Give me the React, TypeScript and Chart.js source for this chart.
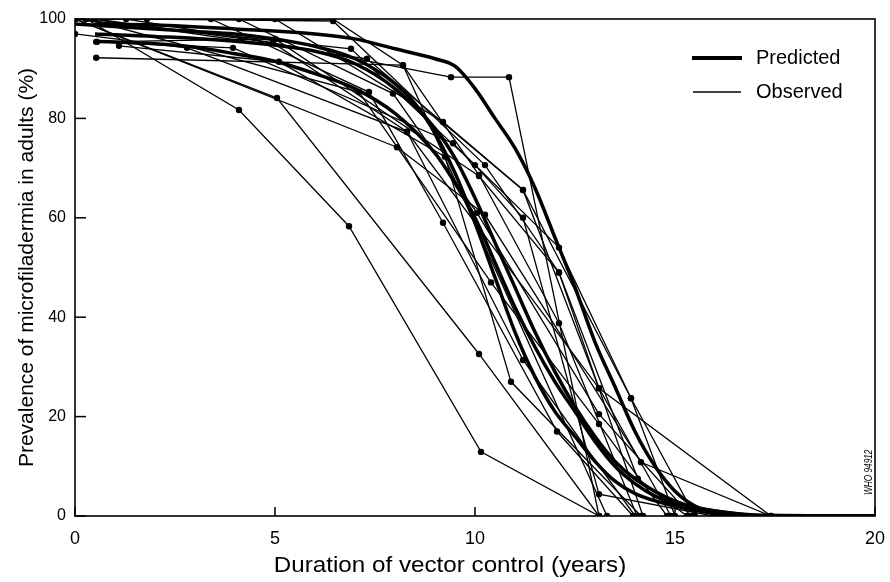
import React, { useEffect, useRef } from "react";
import { Chart, registerables } from "chart.js";
Chart.register(...registerables);

const xTicks = [0, 5, 10, 15, 20];
const yTicks = [0, 20, 40, 60, 80, 100];
const xTitle = "Duration of vector control (years)";
const yTitle = "Prevalence of microfiladermia in adults (%)";
const legendLabels = ["Predicted", "Observed"];
const codeLabel = "WHO 94912";

// Observed series: [years, prevalence %]
const obsA = [[0, 100], [1.28, 100], [4.95, 95.2], [9.4, 88.3], [10.85, 88.3], [13.1, 0]];
const obsB = [[0.53, 92.2], [8.2, 90.7], [10.1, 68.6], [12.1, 38.8], [14.05, 0]];
const obsC = [[0.28, 100], [4.1, 81.7], [6.85, 58.3], [10.15, 12.9], [13.1, 0]];
const obsD = [[0, 100], [5.05, 84.1], [10.1, 32.6], [13.1, 0]];
const obsE = [[0, 97], [2.8, 94.2], [8.3, 77.3], [11.2, 31.4], [14.0, 0]];
const obsF = [[0.45, 100], [3.4, 100], [7.35, 85.3], [9.2, 59], [12.05, 17], [13.95, 0]];
const obsG = [[0.5, 100], [4.1, 100], [7.95, 85], [10.05, 61], [13.1, 20.5], [15.4, 0]];
const obsH = [[0, 100], [5, 100], [9.2, 79.3], [11.2, 65.6], [13.1, 25.7], [14.9, 0]];
const obsI = [[0.55, 95.4], [3.95, 94.2], [9.45, 75], [12.1, 54], [13.9, 23.7], [15.5, 0]];
const obsJ = [[1.1, 94.6], [5.1, 91.4], [9.25, 72.3], [10.9, 27], [14.15, 0]];
const obsK = [[1.8, 100], [6.45, 99.6], [10.25, 70.6], [12.1, 49], [14.07, 7.5], [15.3, 0]];
const obsL = [[0, 100], [6.9, 94], [10, 70.6], [11.2, 60], [13.1, 4.4], [15.95, 0]];
const obsM = [[0.28, 100], [7.1, 85.3], [10.4, 47], [13.1, 18.5], [14.8, 0]];
const obsN = [[0, 100], [8.05, 74.2], [10.25, 60.6], [14.15, 10.8], [17.4, 0]];
const obsO = [[0.5, 100], [4.95, 95.2], [8.3, 77.3], [13.1, 25.7], [17.4, 0]];
const obsP = [[0.45, 100], [7.3, 92], [11.2, 65.6], [13.9, 23.7], [15, 0]];
const obsQ = [[0, 100], [6.45, 100], [8.2, 90.7], [13.3, 0]];
const obsR = [[0.53, 95.4], [5, 96], [10.1, 68.4], [12.1, 49], [14.2, 0]];
const observedSeries = [obsA, obsB, obsC, obsD, obsE, obsF, obsG, obsH, obsI, obsJ, obsK, obsL, obsM, obsN, obsO, obsP, obsQ, obsR];

// Predicted curves
const predA = [[0.5, 99], [2, 98.8], [4, 98], [6, 97], [7, 96], [8, 94], [9, 92], [9.5, 90.5], [10, 86], [10.5, 80], [11, 74], [11.5, 66], [12, 56], [12.5, 46], [13, 35], [13.5, 26], [14, 17], [14.5, 10], [15, 5], [15.5, 2], [16, 0.5], [17, 0], [20, 0]];
const predB = [[0.5, 95.5], [2, 95], [3, 94.3], [4, 93], [5, 91.5], [6, 89], [7, 86], [8, 81], [9, 73], [9.5, 67], [10, 60], [10.5, 51], [11, 42], [11.5, 34], [12, 27], [12.5, 21], [13, 15], [13.5, 10], [14, 6.5], [14.5, 4], [15, 2.5], [16, 1], [17, 0.2], [20, 0]];
const predC = [[0, 99], [1, 98.5], [2, 98], [3, 97.5], [4, 97], [5, 96], [6, 94.5], [7, 92], [8, 87], [8.5, 83], [9, 77], [9.5, 69], [10, 59], [10.5, 48], [11, 37], [11.5, 28], [12, 21], [12.5, 16], [13, 11], [13.5, 7], [14, 4.5], [15, 2], [16, 0.5], [17, 0], [20, 0]];
const predD = [[0.5, 97], [2, 96.5], [4, 95.5], [6, 93.5], [7, 91], [8, 86], [9, 78], [9.5, 72], [10, 64], [10.5, 55], [11, 46], [11.5, 37], [12, 29], [12.5, 22], [13, 16], [13.5, 11], [14, 7.5], [15, 3], [16, 1], [17.5, 0], [20, 0]];
const predictedSeries = [predA, predB, predC, predD];

const FONT = "'Liberation Sans', Arial, Helvetica, sans-serif";

export default function App() {
  const ref = useRef<HTMLCanvasElement>(null);
  useEffect(() => {
    if (!ref.current) return;
    const toPts = (s: number[][]) => s.map(([x, y]) => ({ x, y }));
    const datasets: any[] = [];
    observedSeries.forEach((s) =>
      datasets.push({
        data: toPts(s),
        borderColor: "#000",
        backgroundColor: "#000",
        borderWidth: 1.3,
        pointRadius: 3.2,
        pointBorderWidth: 0,
        tension: 0,
      })
    );
    predictedSeries.forEach((s) =>
      datasets.push({
        data: toPts(s),
        borderColor: "#000",
        borderWidth: 3.5,
        pointRadius: 0,
        cubicInterpolationMode: "monotone",
      })
    );
    const decor = {
      id: "decor",
      afterDatasetsDraw(chart: any) {
        const { ctx, chartArea: a, scales } = chart;
        const x = scales.x, y = scales.y;
        ctx.save();
        ctx.strokeStyle = "#000";
        ctx.fillStyle = "#000";
        ctx.lineWidth = 1.6;
        ctx.strokeRect(a.left, a.top, a.right - a.left, a.bottom - a.top);
        ctx.lineWidth = 1.5;
        yTicks.forEach((v) => {
          const py = y.getPixelForValue(v);
          ctx.beginPath(); ctx.moveTo(a.left, py); ctx.lineTo(a.left + 11, py); ctx.stroke();
        });
        xTicks.forEach((v) => {
          const px = x.getPixelForValue(v);
          ctx.beginPath(); ctx.moveTo(px, a.bottom); ctx.lineTo(px, a.bottom - 9); ctx.stroke();
        });
        // legend
        ctx.font = `20px ${FONT}`;
        ctx.textBaseline = "middle";
        ctx.textAlign = "left";
        ctx.lineWidth = 4;
        ctx.beginPath(); ctx.moveTo(692, 58); ctx.lineTo(742, 58); ctx.stroke();
        ctx.fillText(legendLabels[0], 756, 58);
        ctx.lineWidth = 1.3;
        ctx.beginPath(); ctx.moveTo(693, 92); ctx.lineTo(741, 92); ctx.stroke();
        ctx.fillText(legendLabels[1], 756, 92);
        // x title
        ctx.save();
        ctx.translate(450, 566);
        ctx.scale(1.1, 1);
        ctx.font = `22px ${FONT}`;
        ctx.textAlign = "center";
        ctx.textBaseline = "middle";
        ctx.fillText(xTitle, 0, 0);
        ctx.restore();
        // code label
        ctx.translate(a.right - 1, a.bottom - 21);
        ctx.rotate(-Math.PI / 2);
        ctx.scale(0.75, 1);
        ctx.font = `italic 11px ${FONT}`;
        ctx.textAlign = "left";
        ctx.textBaseline = "bottom";
        ctx.fillText(codeLabel, 0, 0);
        ctx.restore();
      },
    };
    const chart = new Chart(ref.current, {
      type: "line",
      data: { datasets },
      plugins: [decor],
      options: {
        responsive: false,
        animation: false,
        events: [],
        layout: { padding: { top: 19, right: 15, left: 0, bottom: 0 } },
        plugins: { legend: { display: false }, tooltip: { enabled: false } },
        scales: {
          x: {
            type: "linear",
            min: 0,
            max: 20,
            afterFit: (s: any) => { s.height = 66; s.paddingLeft = 0; s.paddingRight = 0; },
            afterBuildTicks: (s: any) => { s.ticks = xTicks.map((v) => ({ value: v })); },
            grid: { display: false, drawTicks: false },
            border: { display: false },
            ticks: { color: "#000", font: { size: 18, family: FONT }, padding: 12, maxRotation: 0 },
            title: { display: false },
          },
          y: {
            type: "linear",
            min: 0,
            max: 100,
            afterFit: (s: any) => { s.width = 75; s.paddingTop = 0; s.paddingBottom = 0; },
            afterBuildTicks: (s: any) => { s.ticks = yTicks.map((v) => ({ value: v })); },
            grid: { display: false, drawTicks: false },
            border: { display: false },
            ticks: { color: "#000", font: { size: 16, family: FONT }, padding: 9 },
            title: { display: true, text: yTitle, color: "#000", font: { size: 21, family: FONT }, padding: { top: 15, bottom: 0 } },
          },
        },
      },
    } as any);
    return () => chart.destroy();
  }, []);
  return (
    <div style={{ position: "absolute", left: 0, top: 0, width: 890, height: 582, background: "#fff" }}>
      <canvas ref={ref} width={890} height={582} style={{ display: "block" }} />
    </div>
  );
}
